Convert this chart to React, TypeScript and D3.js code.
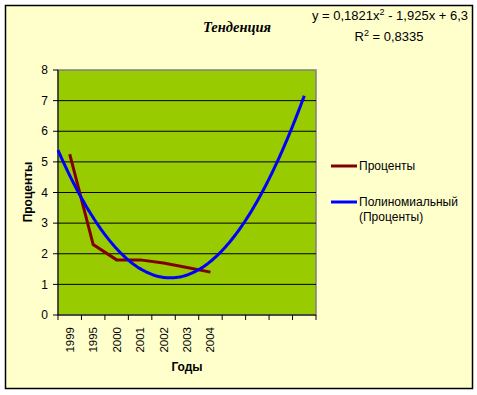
import React from "react";
import * as d3 from "d3";

// categories shown on the x axis (the last four slots are the forecast area)
const years = ["1999", "1995", "2000", "2001", "2002", "2003", "2004", "", "", "", ""];
const percents = [5.25, 2.3, 1.8, 1.8, 1.7, 1.55, 1.4];
// y = 0,1821x^2 - 1,925x + 6,3  (constant, x, x^2)
const trendCoef = [6.3, -1.925, 0.1821];
const trendFrom = 0.5;
const trendTo = 11;
const yTicks = [0, 1, 2, 3, 4, 5, 6, 7, 8];

const W = 477;
const H = 395;
const plot = { left: 58, right: 316, top: 70, bottom: 315 };

const font = "'Liberation Sans', Arial, sans-serif";

const App: React.FC = () => {
	const x = d3
		.scaleLinear()
		.domain([0.5, years.length + 0.5])
		.range([plot.left, plot.right]);
	const y = d3.scaleLinear().domain([0, 8]).range([plot.bottom, plot.top]);

	const dataLine = d3
		.line<number>()
		.x((_, i) => x(i + 1))
		.y((d) => y(d));

	const trendPts = d3
		.range(trendFrom, trendTo + 0.0001, 0.05)
		.map((t) => [t, trendCoef[0] + trendCoef[1] * t + trendCoef[2] * t * t] as [number, number]);
	const trendLine = d3
		.line<[number, number]>()
		.x((d) => x(d[0]))
		.y((d) => y(d[1]))
		.curve(d3.curveMonotoneX);

	const bounds = d3.range(0.5, years.length + 1, 1);

	return (
		<svg
			width={W}
			height={H}
			style={{ position: "absolute", left: 0, top: 0 }}
			fontFamily={font}
		>
			<rect x={0} y={0} width={W} height={H} fill="#ffffff" />
			<rect x={5.5} y={5.5} width={467} height={383} fill="#ffffcc" stroke="#000" strokeWidth={1.5} />

			{/* plot area */}
			<rect
				x={plot.left}
				y={plot.top}
				width={plot.right - plot.left}
				height={plot.bottom - plot.top}
				fill="#99cc00"
				stroke="#808080"
				strokeWidth={1.5}
			/>
			{yTicks.slice(1, -1).map((t) => (
				<line key={t} x1={plot.left} x2={plot.right} y1={y(t)} y2={y(t)} stroke="#000" strokeWidth={1} />
			))}

			{/* axes */}
			<line x1={plot.left} x2={plot.left} y1={plot.top} y2={plot.bottom} stroke="#000" />
			<line x1={plot.left} x2={plot.right} y1={plot.bottom} y2={plot.bottom} stroke="#000" />
			{yTicks.map((t) => (
				<g key={t}>
					<line x1={plot.left - 5} x2={plot.left} y1={y(t)} y2={y(t)} stroke="#000" />
					<text x={plot.left - 10} y={y(t)} dy="0.35em" textAnchor="end" fontSize={12} fill="#000">
						{t}
					</text>
				</g>
			))}
			{bounds.map((b) => (
				<line key={b} x1={x(b)} x2={x(b)} y1={plot.bottom} y2={plot.bottom + 5} stroke="#000" />
			))}
			{years.map((yr, i) =>
				yr ? (
					<text
						key={i}
						transform={`translate(${x(i + 1)},${plot.bottom + 12}) rotate(-90)`}
						dy="0.35em"
						textAnchor="end"
						fontSize={11.5}
						fill="#000"
					>
						{yr}
					</text>
				) : null
			)}

			{/* series */}
			<path d={dataLine(percents) ?? ""} fill="none" stroke="#800000" strokeWidth={3} />
			<path d={trendLine(trendPts) ?? ""} fill="none" stroke="#0000ff" strokeWidth={3} />

			{/* titles */}
			<text x={237} y={32} textAnchor="middle" fontFamily="'Liberation Serif', 'Times New Roman', serif" fontStyle="italic" fontWeight="bold" fontSize={14.5}>
				Тенденция
			</text>
			<text x={390} y={20} textAnchor="middle" fontSize={13}>
				y = 0,1821x<tspan dy={-5} fontSize={9}>2</tspan>
				<tspan dy={5}> - 1,925x + 6,3</tspan>
			</text>
			<text x={389} y={41} textAnchor="middle" fontSize={13}>
				R<tspan dy={-5} fontSize={9}>2</tspan>
				<tspan dy={5}> = 0,8335</tspan>
			</text>
			<text transform="translate(32,192) rotate(-90)" textAnchor="middle" fontWeight="bold" fontSize={12}>
				Проценты
			</text>
			<text x={187} y={371} textAnchor="middle" fontWeight="bold" fontSize={12}>
				Годы
			</text>

			{/* legend */}
			<line x1={331} x2={357} y1={166} y2={166} stroke="#800000" strokeWidth={3} />
			<text x={359} y={166} dy="0.35em" fontSize={12}>Проценты</text>
			<line x1={331} x2={357} y1={202} y2={202} stroke="#0000ff" strokeWidth={3} />
			<text x={359} y={202} dy="0.35em" fontSize={12}>Полиномиальный</text>
			<text x={359} y={217} dy="0.35em" fontSize={12}>(Проценты)</text>
		</svg>
	);
};

export default App;
